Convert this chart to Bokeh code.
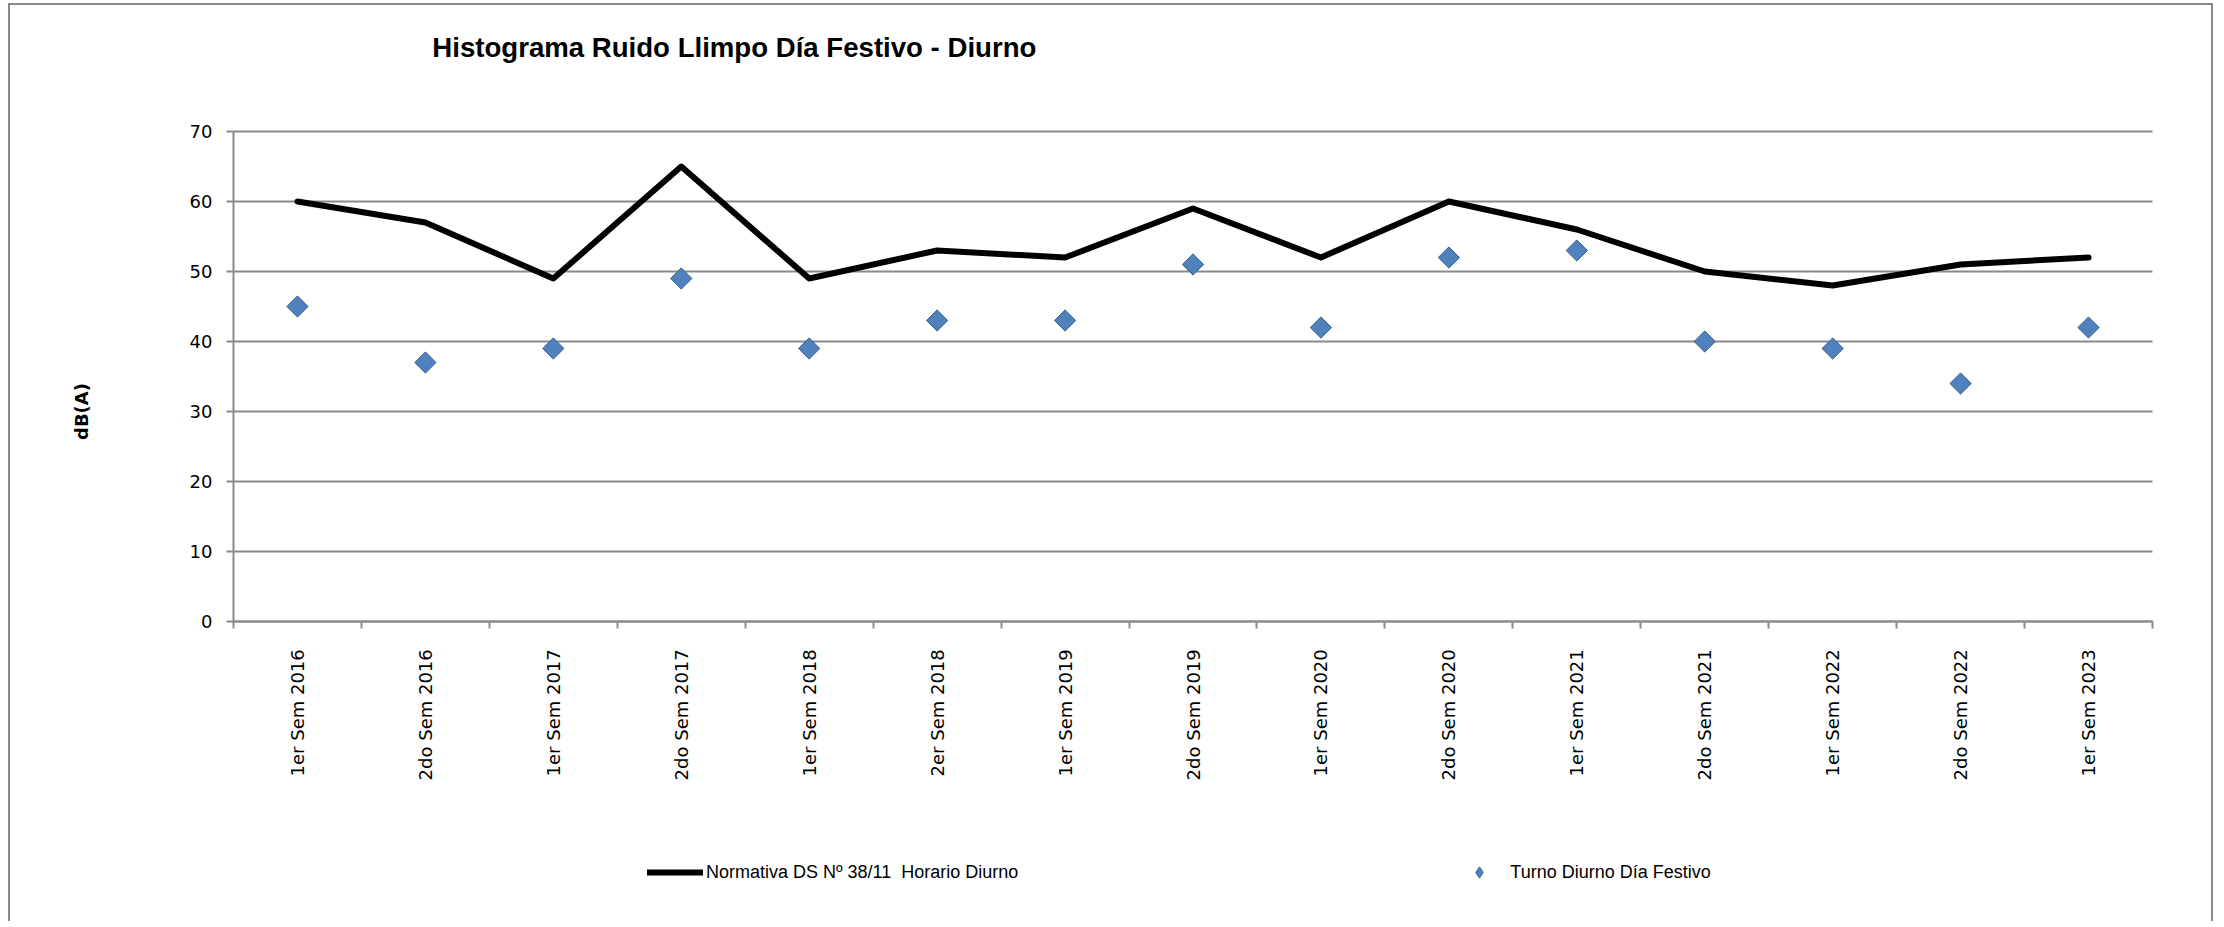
import numpy as np
from bokeh.plotting import figure
from bokeh.models import (Range1d, FixedTicker, Label, Legend, LegendItem,
                          ColumnDataSource)
from bokeh.embed import file_html
from bokeh.resources import INLINE

# ---------------- data ----------------
categories = ["1er  Sem 2016", "2do  Sem 2016", "1er  Sem 2017", "2do  Sem 2017",
              "1er  Sem 2018", "2er  Sem 2018", "1er  Sem 2019", "2do  Sem 2019",
              "1er  Sem 2020", "2do  Sem 2020", "1er  Sem 2021", "2do  Sem 2021",
              "1er  Sem 2022", "2do  Sem 2022", "1er  Sem 2023"]
normativa = [60, 57, 49, 65, 49, 53, 52, 59, 52, 60, 56, 50, 48, 51, 52]
turno_festivo = [45, 37, 39, 49, 39, 43, 43, 51, 42, 52, 53, 40, 39, 34, 42]
y_ticks = [0, 10, 20, 30, 40, 50, 60, 70]

title_text = "Histograma Ruido Llimpo Día Festivo - Diurno"
y_label = "dB(A)"
legend_line = "Normativa DS Nº 38/11  Horario Diurno"
legend_points = "Turno Diurno Día Festivo"

# ---------------- layout geometry (pixels) ----------------
W, H = 2205, 918                 # canvas size
PX_X = 1919 / 15                 # pixels per category
PX_Y = 7.0                       # pixels per dB
LEFT_PAD, TOP_PAD, BOTTOM_PAD = 223, 126, 302

n = len(categories)
xs = list(range(n))
x_lo = -0.5 - LEFT_PAD / PX_X
x_hi = x_lo + W / PX_X
y_top = max(y_ticks) + TOP_PAD / PX_Y
y_bot = -BOTTOM_PAD / PX_Y

src = ColumnDataSource(dict(x=xs, cat=categories, norm=normativa, turno=turno_festivo))
grid_src = ColumnDataSource(dict(y=y_ticks, x0=[-0.5] * len(y_ticks),
                                 x1=[n - 0.5] * len(y_ticks)))

GRAY = "#8a8a8a"
FILL = "#4F81BD"
EDGE = "#385D8A"

p = figure(width=W, height=H, output_backend="svg", toolbar_location=None,
           x_range=Range1d(x_lo, x_hi), y_range=Range1d(y_bot, y_top),
           min_border_left=0, min_border_top=0, min_border_right=0,
           min_border_bottom=0)
p.outline_line_color = None
p.background_fill_color = "white"
p.border_fill_color = "white"
p.styles = {"margin-left": "8px", "margin-top": "3px",
            "border-top": f"2px solid {GRAY}", "border-left": f"2px solid {GRAY}",
            "border-right": f"2px solid {GRAY}"}
p.xgrid.visible = False
p.ygrid.visible = False

# x axis at y = 0: labels at category centres, ticks between categories
xa = p.xaxis[0]
xa.fixed_location = 0
xa.bounds = (-0.5, n - 0.5)
xa.ticker = FixedTicker(ticks=xs, minor_ticks=[i - 0.5 for i in range(n + 1)])
xa.major_label_overrides = {i: c for i, c in zip(xs, categories)}
xa.major_tick_out = 0
xa.major_tick_in = 0
xa.minor_tick_out = 7
xa.minor_tick_in = 0
xa.minor_tick_line_color = GRAY
xa.minor_tick_line_width = 2
xa.axis_line_color = GRAY
xa.axis_line_width = 2
xa.major_label_orientation = np.pi / 2
xa.major_label_standoff = 15
xa.major_label_text_font = "DejaVu Sans"
xa.major_label_text_font_size = "18px"
xa.major_label_text_color = "black"

# y axis at the left edge of the first category
ya = p.yaxis[0]
ya.fixed_location = -0.5
ya.bounds = (0, max(y_ticks))
ya.ticker = FixedTicker(ticks=y_ticks, minor_ticks=[])
ya.major_tick_out = 7
ya.major_tick_in = 0
ya.major_tick_line_color = GRAY
ya.major_tick_line_width = 2
ya.minor_tick_out = 0
ya.minor_tick_in = 0
ya.axis_line_color = GRAY
ya.axis_line_width = 2
ya.major_label_standoff = 14
ya.major_label_text_font = "DejaVu Sans"
ya.major_label_text_font_size = "18px"
ya.major_label_text_color = "black"

# horizontal gridlines at the y ticks, spanning the categories
p.segment(x0="x0", x1="x1", y0="y", y1="y", source=grid_src,
          line_color=GRAY, line_width=2)

# ---------------- series ----------------
line_r = p.line("x", "norm", source=src, line_color="black", line_width=6,
                line_join="round", line_cap="round")
# diamond symbol used for the legend key (sits fully under the markers below)
pts_key = p.scatter("x", "turno", source=src, marker="diamond", size=10,
                    fill_color=FILL, line_color=EDGE, line_width=1)
pts_r = p.scatter("x", "turno", source=src, marker="square", angle=np.pi / 4,
                  size=15, fill_color=FILL, line_color=EDGE, line_width=1)

# ---------------- texts ----------------
p.add_layout(Label(x=3.415, y=82, text=title_text, text_font="Liberation Sans",
                   text_font_style="bold", text_font_size="27.6px", text_color="black",
                   text_align="center", text_baseline="middle"))
p.add_layout(Label(x=-1.688, y=30, text=y_label, angle=np.pi / 2,
                   text_font="DejaVu Sans", text_font_style="bold",
                   text_font_size="18px", text_color="black",
                   text_align="center", text_baseline="middle"))

legend = Legend(items=[LegendItem(label=legend_line, renderers=[line_r]),
                       LegendItem(label=legend_points, renderers=[pts_key])],
                location=(637, 37), orientation="horizontal", spacing=433,
                padding=0, margin=0, glyph_width=56, glyph_height=28,
                label_height=28, label_standoff=3,
                label_text_font="Liberation Sans", label_text_font_size="18px",
                label_text_color="black", border_line_color=None,
                background_fill_alpha=0)
p.add_layout(legend)

open("out.html", "w").write(file_html(p, INLINE))
